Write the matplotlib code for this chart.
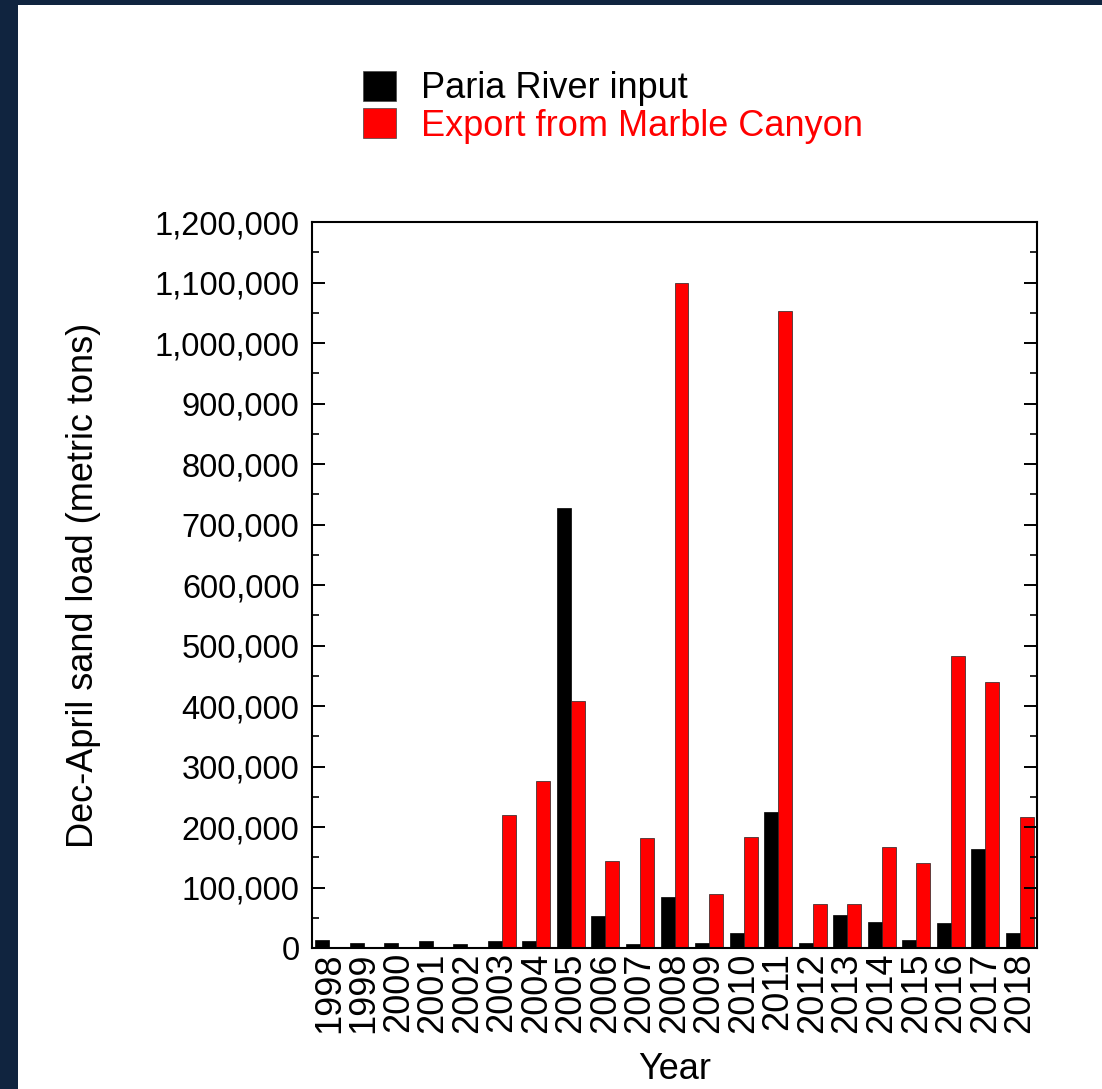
import numpy as np
import matplotlib
matplotlib.use('Agg')
import matplotlib.pyplot as plt
from matplotlib.patches import Patch, Rectangle
from matplotlib.ticker import FuncFormatter, MultipleLocator

plt.rcParams['font.family'] = ['Liberation Sans', 'DejaVu Sans']

years = [str(y) for y in range(1998, 2019)]
# Dec-April sand loads, metric tons
paria_input = [13000, 9000, 9000, 12000, 6000, 12000, 12000, 728000, 53000, 6000,
               85000, 9000, 25000, 225000, 9000, 55000, 43000, 14000, 41000, 164000, 24000]
marble_export = [0, 0, 0, 0, 0, 220000, 276000, 409000, 144000, 181000,
                 1100000, 89000, 183000, 1053000, 73000, 73000, 167000, 140000, 483000, 440000, 216000]

FS = 26

fig = plt.figure(figsize=(11.02, 10.89), dpi=100)
fig.patch.set_facecolor('#10243f')
fig.patches.append(Rectangle((18 / 1102, 0), 1, 1 - 5 / 1089, transform=fig.transFigure,
                             facecolor='white', edgecolor='none', zorder=-5))

ax = fig.add_axes([312 / 1102, 1 - 948 / 1089, (1037 - 312) / 1102, (948 - 222) / 1089])
x = np.arange(len(years))
w = 0.405
ax.bar(x - w / 2, paria_input, w, color='black', edgecolor='black', linewidth=0.5)
ax.bar(x + w / 2, marble_export, w, color='#ff0000', edgecolor='#222222', linewidth=0.5)

ax.set_xlim(-0.5, len(years) - 0.5)
ax.set_ylim(0, 1200000)
ax.set_xticks(x)
ax.set_xticklabels(years, rotation=90, fontsize=FS)
ax.tick_params(axis='x', length=0, pad=3)
ax.yaxis.set_major_locator(MultipleLocator(100000))
ax.yaxis.set_minor_locator(MultipleLocator(50000))
ax.yaxis.set_major_formatter(FuncFormatter(lambda v, p: f'{int(v):,}'))
ax.tick_params(axis='y', which='major', direction='in', length=9.4, width=1.4,
               right=True, labelsize=23.5, pad=9)
ax.tick_params(axis='y', which='minor', direction='in', length=5, width=1.2, right=True)
for s in ax.spines.values():
    s.set_linewidth(1.5)

ax.set_xlabel('Year', fontsize=FS, va='top')
ax.xaxis.set_label_coords(0.5, -0.143)
ax.set_ylabel('Dec-April sand load (metric tons)', fontsize=FS, va='bottom')
ax.yaxis.set_label_coords(-0.291, 0.5)

handles = [Patch(facecolor='black', edgecolor='#444444', linewidth=0.5),
           Patch(facecolor='#ff0000', edgecolor='#444444', linewidth=0.5)]
fig.legend(handles, ['Paria River input', 'Export from Marble Canyon'],
           loc='upper left', bbox_to_anchor=(363 / 1102, 1 - 71 / 1089),
           frameon=False, fontsize=FS, handlelength=0.9, handleheight=0.9,
           handletextpad=0.7, labelspacing=0.05, borderpad=0, borderaxespad=0,
           labelcolor=['black', '#ff0000'])

fig.savefig('out.png', dpi=100, facecolor=fig.get_facecolor())
